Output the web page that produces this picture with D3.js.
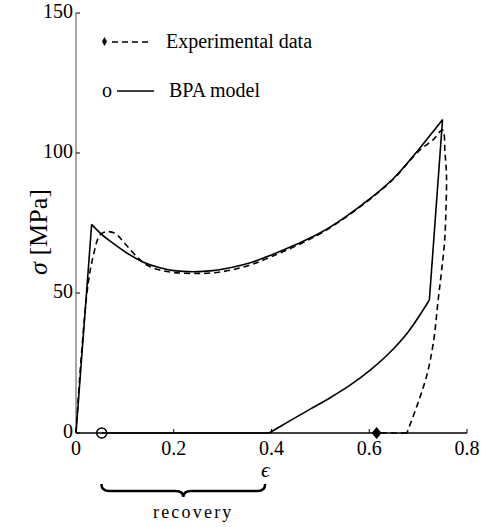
<!DOCTYPE html>
<html>
<head>
<meta charset="utf-8">
<script src="https://cdn.jsdelivr.net/npm/d3@7"></script>
<style>
body { margin: 0; background: #fff; }
</style>
</head>
<body>
<svg id="chart" width="483" height="527"></svg>
<script>
// model curve (BPA model), loading then unloading
var modelEps = [0, 0.032, 0.05, 0.07, 0.104, 0.138, 0.172, 0.20, 0.24, 0.28, 0.32, 0.36, 0.40, 0.45, 0.50, 0.55, 0.60, 0.65, 0.70, 0.73, 0.750,
	0.723, 0.68, 0.64, 0.60, 0.56, 0.52, 0.48, 0.44, 0.395, 0.0526];
var modelSigma = [0, 74.5, 71.3, 68.5, 64.3, 61.0, 59.0, 58.0, 57.6, 58.0, 59.2, 61.0, 63.6, 67.3, 71.5, 77.0, 83.5, 91.0, 101.0, 107.5, 112.0,
	47.5, 36.2, 28.4, 22.2, 17.0, 12.6, 8.6, 4.6, 0, 0];
// index ranges: straight pieces and smooth pieces of the model curve
var modelPieces = [[0, 1, 'lin'], [1, 20, 'smooth'], [20, 21, 'lin'], [21, 29, 'smooth'], [29, 30, 'lin']];

// experimental data
var expEps = [0, 0.012, 0.025, 0.035, 0.049, 0.063, 0.080, 0.100, 0.124, 0.145, 0.17, 0.20, 0.24, 0.28, 0.32, 0.36, 0.40, 0.45, 0.50, 0.55, 0.60, 0.65, 0.70, 0.731, 0.750,
	0.755, 0.758, 0.757, 0.754, 0.748, 0.741, 0.731, 0.717, 0.697, 0.677, 0.615];
var expSigma = [0, 30, 53.5, 63, 70.7, 71.9, 71.3, 67.7, 63, 60, 58.3, 57.3, 57, 57.2, 58.3, 60.2, 63, 66.8, 71.2, 76.8, 83.3, 90.8, 100.5, 104.8, 108.2,
	100, 92, 80, 68, 58, 47.5, 32, 20.1, 9.4, 0, 0];
var expPieces = [[0, 34, 'smooth'], [34, 35, 'lin']];

var xTicks = [0, 0.2, 0.4, 0.6, 0.8];
var yTicks = [0, 50, 100, 150];
var recovery = [0.052, 0.387];

var FONT = 'Liberation Serif';

var svg = d3.select('#chart');

var x = d3.scaleLinear().domain([0, 0.8]).range([76, 467]);
var y = d3.scaleLinear().domain([0, 150]).range([433, 13]);

function addText(px, py, str, size, anchor) {
	return svg.append('text')
		.attr('x', px).attr('y', py)
		.attr('text-anchor', anchor || 'start')
		.attr('font-family', FONT)
		.attr('font-size', size)
		.attr('fill', '#000')
		.text(str);
}

// axes
svg.append('line')
	.attr('x1', x(0)).attr('x2', x(0))
	.attr('y1', y(0)).attr('y2', y(150))
	.style('stroke', '#888').style('stroke-width', 1.5);
svg.append('line')
	.attr('x1', x(0)).attr('x2', x(0.8))
	.attr('y1', y(0)).attr('y2', y(0))
	.style('stroke', '#000').style('stroke-width', 1.5);

svg.selectAll('.ytick')
	.data(yTicks)
	.enter()
	.append('line')
	.attr('x1', x(0)).attr('x2', x(0) + 4)
	.attr('y1', function(d) { return y(d) }).attr('y2', function(d) { return y(d) })
	.style('stroke', '#000').style('stroke-width', 1);
yTicks.forEach(function(d) { addText(x(0) - 3, y(d) + 5, d, 20, 'end'); });

svg.selectAll('.xtick')
	.data(xTicks)
	.enter()
	.append('line')
	.attr('x1', function(d) { return x(d) }).attr('x2', function(d) { return x(d) })
	.attr('y1', y(0)).attr('y2', y(0) - 4)
	.style('stroke', '#000').style('stroke-width', 1);
xTicks.forEach(function(d) { addText(x(d), y(0) + 22, d, 20, 'middle'); });

// axis titles
addText(x(0.4) - 6, 477, '\u03F5', 22, 'middle').attr('font-style', 'italic');
svg.append('text')
	.attr('transform', 'translate(47,232) rotate(-90)')
	.attr('text-anchor', 'middle')
	.attr('font-family', FONT)
	.attr('font-size', 26)
	.html('<tspan font-style="italic">\u03C3</tspan> [MPa]');

// curves, each built from straight and smooth pieces
var lineLin = d3.line()
	.x(function(d) { return x(d[0]) })
	.y(function(d) { return y(d[1]) });
var lineSmooth = d3.line()
	.x(function(d) { return x(d[0]) })
	.y(function(d) { return y(d[1]) })
	.curve(d3.curveCatmullRom.alpha(0.5));

function piecePath(xs, ys, pieces) {
	var pts = d3.zip(xs, ys);
	return pieces.map(function(p) {
		var seg = pts.slice(p[0], p[1] + 1);
		return p[2] == 'lin' ? lineLin(seg) : lineSmooth(seg);
	}).join('');
}

svg.append('path')
	.attr('d', piecePath(expEps, expSigma, expPieces))
	.style('fill', 'none').style('stroke', '#000')
	.style('stroke-width', 1.6).style('stroke-dasharray', '6,4');
svg.append('path')
	.attr('d', piecePath(modelEps, modelSigma, modelPieces))
	.style('fill', 'none').style('stroke', '#000')
	.style('stroke-width', 1.6).style('stroke-linejoin', 'round');

// end markers
svg.append('circle')
	.attr('cx', x(modelEps[modelEps.length - 1]))
	.attr('cy', y(modelSigma[modelSigma.length - 1]))
	.attr('r', 5)
	.style('fill', 'none').style('stroke', '#000').style('stroke-width', 1.5);
var dx = x(expEps[expEps.length - 1]), dy = y(expSigma[expSigma.length - 1]);
svg.append('path')
	.attr('d', 'M' + dx + ',' + (dy - 6) + 'L' + (dx + 5) + ',' + dy + 'L' + dx + ',' + (dy + 6) + 'L' + (dx - 5) + ',' + dy + 'Z')
	.style('fill', '#000');

// legend
svg.append('path')
	.attr('d', 'M104.5,37L107,41.5L104.5,46L102,41.5Z')
	.style('fill', '#000');
svg.append('line')
	.attr('x1', 112).attr('x2', 149).attr('y1', 42).attr('y2', 42)
	.style('stroke', '#000').style('stroke-width', 1.5).style('stroke-dasharray', '6,4');
addText(166, 48, 'Experimental data', 20);
addText(107, 97, 'o', 20, 'middle');
svg.append('line')
	.attr('x1', 117).attr('x2', 154).attr('y1', 91).attr('y2', 91)
	.style('stroke', '#000').style('stroke-width', 1.5);
addText(169, 97, 'BPA model', 20);

// recovery brace
var bx0 = x(recovery[0]), bx1 = x(recovery[1]), bm = (bx0 + bx1) / 2;
var by = 484;
svg.append('path')
	.attr('d', 'M' + bx0 + ',' + by +
		'Q' + bx0 + ',' + (by + 7) + ' ' + (bx0 + 8) + ',' + (by + 7) +
		'L' + (bm - 8) + ',' + (by + 7) +
		'Q' + bm + ',' + (by + 7) + ' ' + bm + ',' + (by + 13) +
		'Q' + bm + ',' + (by + 7) + ' ' + (bm + 8) + ',' + (by + 7) +
		'L' + (bx1 - 8) + ',' + (by + 7) +
		'Q' + bx1 + ',' + (by + 7) + ' ' + bx1 + ',' + by)
	.style('fill', 'none').style('stroke', '#000').style('stroke-width', 2.5);
addText(bm + 10, 518, 'recovery', 18, 'middle').attr('letter-spacing', '2.2px');
</script>
</body>
</html>
